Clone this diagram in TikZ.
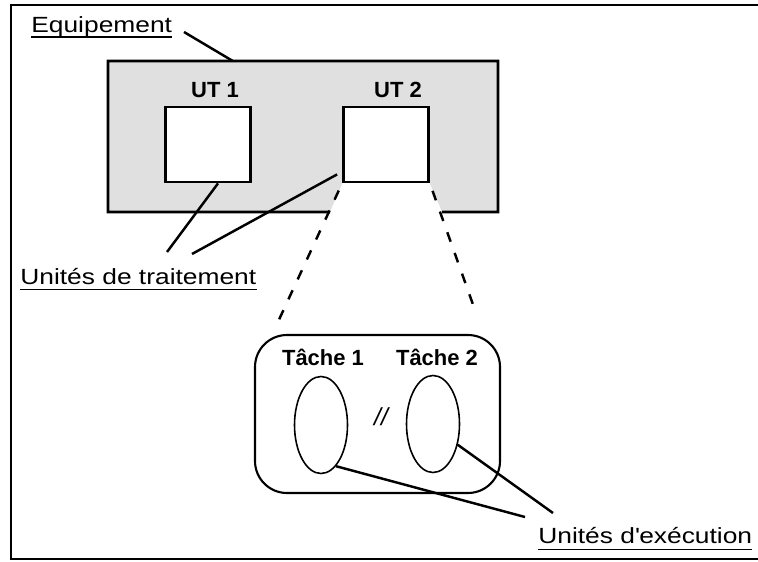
\documentclass[tikz,border=0pt]{standalone}
\usepackage{fontspec}
\setmainfont{Liberation Sans}
\newfontfamily\widefont[FakeStretch=1.2]{Liberation Sans}
\usetikzlibrary{calc,shapes.geometric}
\definecolor{EquipGray}{gray}{0.88}

\begin{document}
\begin{tikzpicture}[font=\fontsize{12.5}{15}\selectfont,
  utbox/.style={draw,line width=1.6pt,fill=white,minimum width=1.7cm,minimum height=1.5cm,inner sep=0pt},
  taskbox/.style={draw,line width=1.2pt,rounded corners=0.64cm,minimum width=4.9cm,minimum height=3.16cm,inner sep=0pt},
  tache/.style={draw,ellipse,line width=0.9pt,minimum width=1.06cm,minimum height=1.94cm,inner sep=0pt},
  titre/.style={font=\fontsize{12.5}{15}\selectfont\bfseries,anchor=base,inner sep=0pt},
  legende/.style={font=\fontsize{12.5}{15}\selectfont\widefont,anchor=base west,inner sep=0pt},
  lien/.style={line width=1.4pt},
  souligne/.style={line width=1.1pt},
  zoomline/.style={line width=1.4pt,dash pattern=on 5.7pt off 6.8pt,dash phase=8pt}]
  \useasboundingbox (0,0) rectangle (15.16,11.22);
  \draw[line width=1.3pt] (15.16,11.12) -- (0.22,11.12) -- (0.22,0.04) -- (15.16,0.04);

  \node[fill=EquipGray,minimum width=7.8cm,minimum height=3.02cm,inner sep=0pt,outer sep=0pt] (eq) at (6.06,8.49) {};
  \fill[white] (6.86,7.58) -- (8.58,7.58) -- (8.84,6.98) -- (6.6,6.98) -- cycle;
  \draw[line width=1.6pt] (6.6,6.98) -- (eq.south west) -- (eq.north west) -- (eq.north east) -- (eq.south east) -- (8.84,6.98);
  \node[utbox] (ut1) at (4.16,8.33) {};
  \node[utbox] (ut2) at (7.72,8.33) {};
  \node[titre] (lut1) at (4.3,9.28) {UT 1};
  \node[titre] (lut2) at (7.96,9.28) {UT 2};

  \node[legende] (leq) at (0.62,10.56) {Equipement};
  \draw[souligne] ([yshift=-0.08cm]leq.base west) -- ([yshift=-0.08cm]leq.base east);
  \coordinate (peq) at (3.68,10.58);
  \draw[lien] (peq) -- ($(eq.north west)!0.32!(eq.north east)$);

  \node[legende] (ltr) at (0.4,5.54) {Unités de traitement};
  \draw[souligne] ([yshift=-0.11cm]ltr.base west) -- ([yshift=-0.11cm]ltr.base east);
  \coordinate (ptr1) at (3.34,6.18);
  \coordinate (ptr2) at (3.84,6.14);
  \draw[lien] (ptr1) -- ([xshift=0.2cm]ut1.south);
  \draw[lien] (ptr2) -- ($(ut2.south west)+(-0.1,0.18)$);

  \coordinate (z1) at (5.54,4.74);
  \coordinate (z2) at (9.52,4.96);
  \draw[zoomline] (ut2.south west) -- (z1);
  \draw[zoomline] (ut2.south east) -- (z2);

  \node[taskbox] (tb) at (7.55,2.94) {};
  \node[titre] (lt1) at (6.46,3.92) {Tâche 1};
  \node[titre] (lt2) at (8.74,3.92) {Tâche 2};
  \node[tache] (t1) at (6.42,2.72) {};
  \node[tache] (t2) at (8.66,2.74) {};
  \node[inner sep=0pt,font=\fontsize{14}{16}\selectfont\itshape] (par) at (7.62,2.88) {//};

  \node[legende] (lex) at (10.76,0.36) {Unités d\textquotesingle exécution};
  \draw[souligne] ([yshift=-0.13cm]lex.base west) -- ([yshift=-0.13cm]lex.base east);
  \coordinate (pex1) at (10.5,0.88);
  \coordinate (pex2) at (11.06,0.96);
  \draw[lien] (t1.-70) -- (pex1);
  \draw[lien] (t2.-40) -- (pex2);
\end{tikzpicture}
\end{document}
